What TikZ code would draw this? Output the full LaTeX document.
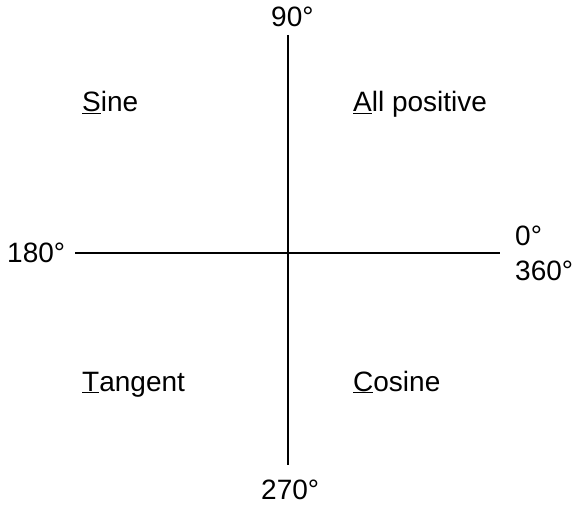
\documentclass[tikz,border=0pt]{standalone}
\usepackage{fontspec}
\setmainfont{Liberation Sans}
\usetikzlibrary{positioning}
\tikzstyle{quadrant} = [anchor=base west, inner sep=0pt, font=\fontsize{28}{33}\selectfont]
\tikzstyle{anglelabel} = [anchor=base west, inner sep=0pt, font=\fontsize{28}{33}\selectfont]
\tikzstyle{axis} = [line width=1.8pt]

\begin{document}
\begin{tikzpicture}[x=1pt, y=-1pt]
	\useasboundingbox (0,0) rectangle (576,505);
	
	\coordinate (top) at (288,35);
	\coordinate (bottom) at (288,465);
	\coordinate (left) at (75,253);
	\coordinate (right) at (500,253);
	
	\draw [axis] (top) -- (bottom);
	\draw [axis] (left) -- (right);
	
	\node (deg90) [anglelabel] at (271,27) {90°};
	\node (deg180) [anglelabel] at (7,263) {180°};
	\node (deg0) [anglelabel] at (515,246) {0°};
	\node (deg360) [anglelabel] at (515,281) {360°};
	\node (deg270) [anglelabel] at (261,499) {270°};
	
	\node (sine) [quadrant] at (82,112) {\underline{S}ine};
	\node (all) [quadrant] at (353,112) {\underline{A}ll positive};
	\node (tangent) [quadrant] at (82,391) {\underline{T}angent};
	\node (cosine) [quadrant] at (353,391) {\underline{C}osine};
\end{tikzpicture}
\end{document}
